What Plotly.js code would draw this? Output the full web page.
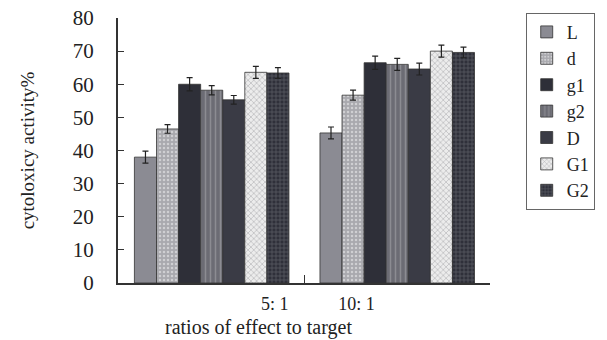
<!DOCTYPE html>
<html><head><meta charset="utf-8">
<script src="https://cdn.plot.ly/plotly-3.0.1.min.js"></script>
<style>html,body{margin:0;padding:0;background:#fff}#chart{width:607px;height:340px}</style>
</head><body><div id="chart"></div>
<script>
const categories = ['5: 1', '10: 1'];
const seriesNames = ['L', 'd', 'g1', 'g2', 'D', 'G1', 'G2'];
const L  = [38.0, 45.3];
const d  = [46.5, 56.7];
const g1 = [60.0, 66.5];
const g2 = [58.2, 66.0];
const D  = [55.3, 64.6];
const G1 = [63.6, 70.0];
const G2 = [63.4, 69.6];
const errL  = [1.8, 1.8];
const errd  = [1.3, 1.5];
const errg1 = [2.0, 2.0];
const errg2 = [1.4, 1.8];
const errD  = [1.3, 1.8];
const errG1 = [1.8, 1.8];
const errG2 = [1.6, 1.6];
const yTicks = [0, 10, 20, 30, 40, 50, 60, 70, 80];
const xTitle = 'ratios of effect to target';
const yTitle = 'cytoloxicy activity%';

const values = [L, d, g1, g2, D, G1, G2];
const errs = [errL, errd, errg1, errg2, errD, errG1, errG2];
const styles = [
  {color: '#8b8b93', pattern: {shape: ''}},
  {color: '#a9a9ae', pattern: {shape: '.', bgcolor: '#a9a9ae', fgcolor: '#cfcfd2', size: 4, solidity: 0.3}},
  {color: '#2e2f38', pattern: {shape: ''}},
  {color: '#6c6c74', pattern: {shape: '|', bgcolor: '#6c6c74', fgcolor: '#8c8c92', size: 5, solidity: 0.3}},
  {color: '#3a3b45', pattern: {shape: ''}},
  {color: '#e6e6e6', pattern: {shape: 'x', bgcolor: '#ececec', fgcolor: '#a8a8ac', size: 4, solidity: 0.25}},
  {color: '#2f303a', pattern: {shape: '+', bgcolor: '#2f303a', fgcolor: '#585962', size: 4, solidity: 0.35}}
];
const xIdx = categories.map((c, i) => i);

const traces = seriesNames.map((name, k) => ({
  type: 'bar', name: name, x: xIdx, y: values[k],
  marker: {color: styles[k].color, pattern: styles[k].pattern, line: {color: '#333', width: 0.8}},
  error_y: {type: 'data', array: errs[k], visible: true, color: '#222', thickness: 1.2, width: 3}
}));

const serif = 'Liberation Serif, Times New Roman, serif';
const layout = {
  width: 607, height: 340,
  margin: {l: 118, r: 104, t: 18, b: 57},
  paper_bgcolor: '#fff', plot_bgcolor: '#fff',
  barmode: 'group', bargap: 0.167, bargroupgap: 0,
  font: {family: serif, color: '#222', size: 19},
  xaxis: {
    range: [-0.505, 1.5], showgrid: false, zeroline: false,
    showline: true, linecolor: '#333', linewidth: 2,
    tickmode: 'array', tickvals: [0.34, 0.78], ticktext: categories,
    ticks: '', ticklabelstandoff: 3,
    tickfont: {family: serif, size: 18, color: '#222'},
    minor: {tickmode: 'array', tickvals: [0.5], ticks: 'inside', ticklen: 8, tickcolor: '#333', tickwidth: 1.5}
  },
  yaxis: {
    range: [0, 80], tickmode: 'array', tickvals: yTicks, showgrid: false, zeroline: false,
    showline: true, linecolor: '#333', linewidth: 2,
    ticks: 'inside', ticklen: 6, tickcolor: '#333', tickwidth: 1,
    ticklabelstandoff: 18,
    tickfont: {family: serif, size: 21, color: '#222'},
    title: {text: yTitle, font: {family: serif, size: 19, color: '#222'}, standoff: 33}
  },
  annotations: [{
    text: xTitle, xref: 'paper', yref: 'paper', x: 0.377, y: -0.168,
    xanchor: 'center', yanchor: 'middle', showarrow: false,
    font: {family: serif, size: 20, color: '#222'}
  }],
  showlegend: true,
  legend: {
    x: 1.096, xanchor: 'left', y: 1.02, yanchor: 'top',
    bordercolor: '#666', borderwidth: 1, bgcolor: '#fff',
    font: {family: serif, size: 18, color: '#222'},
    traceorder: 'normal', itemwidth: 30, maxheight: 330
  }
};
Plotly.newPlot('chart', traces, layout, {displayModeBar: false, staticPlot: true});
</script>
</body></html>
